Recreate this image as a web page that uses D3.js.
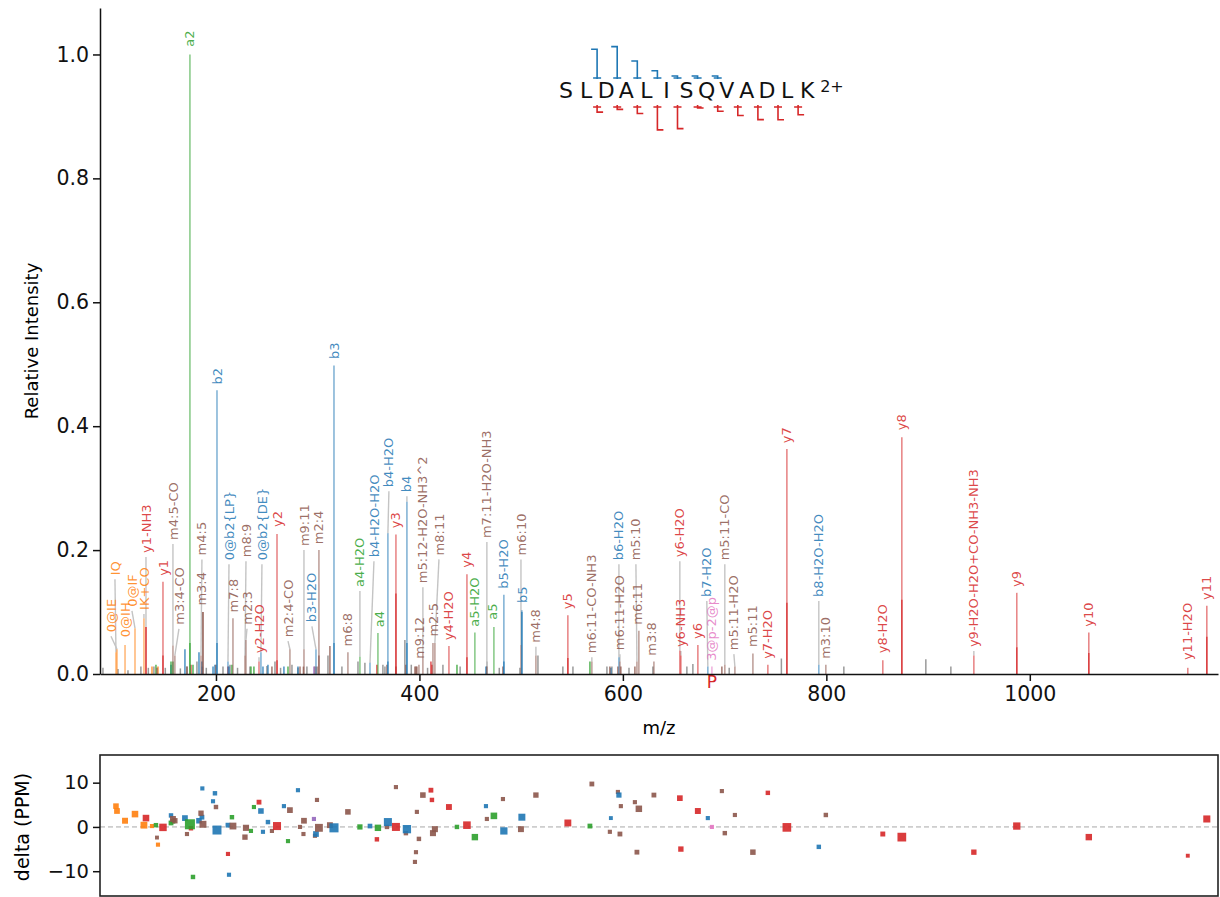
<!DOCTYPE html>
<html>
<head>
<meta charset="utf-8">
<script src="https://cdn.jsdelivr.net/npm/d3@7"></script>
<style>
  body { margin: 0; background: #fff; }
  svg { font-family: "DejaVu Sans", sans-serif; }
</style>
</head>
<body>
<svg id="chart" width="1220" height="897"></svg>
<script>
// peptide + precursor
const peptide = "SLDALISQVADLK".split("");
const charge = "2+";
const precursorMz = 687.5;

// annotated peaks: [label, ion type, m/z, intensity, delta ppm]
const annotated = [
  ["IQ", "i", 101.7, 0.035, 4.7],
  ["0@IE", "i", 102.7, 0.04, 3.6],
  ["0@IH", "i", 110.6, 0.047, 1.4],
  ["0@IF", "i", 120.4, 0.074, 2.9],
  ["IK+CO", "i", 129.2, 0.09, 0.4],
  ["y1-NH3", "y", 131.2, 0.076, 2.0],
  ["y1", "y", 147.9, 0.149, -0.1],
  ["y2-H2O", "y", 242.3, 0.02, 5.6],
  ["y2", "y", 260.0, 0.226, 0.2],
  ["y3", "y", 376.9, 0.225, 0.0],
  ["y4-H2O", "y", 429.0, 0.045, 4.5],
  ["y4", "y", 446.7, 0.161, 0.4],
  ["y5", "y", 545.9, 0.095, 0.9],
  ["y6-H2O", "y", 656.0, 0.038, 6.5],
  ["y6-NH3", "y", 657.0, 0.03, -5.0],
  ["y6", "y", 673.7, 0.047, 3.6],
  ["y7-H2O", "y", 742.5, 0.015, 7.7],
  ["y7", "y", 761.2, 0.363, -0.1],
  ["y8-H2O", "y", 855.5, 0.022, -1.6],
  ["y8", "y", 874.2, 0.382, -2.3],
  ["y9-H2O-H2O+CO-NH3-NH3", "y", 945.0, 0.03, -5.7],
  ["y9", "y", 987.2, 0.131, 0.2],
  ["y10", "y", 1058.0, 0.067, -2.3],
  ["y11-H2O", "y", 1155.3, 0.01, -6.5],
  ["y11", "y", 1174.0, 0.11, 1.8],
  ["b2", "b", 201.0, 0.458, -0.7],
  ["0@b2{LP}", "b", 211.8, 0.02, 0.4],
  ["0@b2{DE}", "b", 244.2, 0.035, 3.6],
  ["b3-H2O", "b", 298.3, 0.04, -1.6],
  ["b3", "b", 316.0, 0.498, -0.2],
  ["b4-H2O-H2O", "b", 351.4, 0.018, 0.2],
  ["b4-H2O", "b", 369.0, 0.227, 1.1],
  ["b4", "b", 387.7, 0.278, -0.5],
  ["b5-H2O", "b", 483.0, 0.128, -0.9],
  ["b5", "b", 500.7, 0.103, 2.2],
  ["b6-H2O", "b", 596.1, 0.027, 7.2],
  ["b7-H2O", "b", 683.5, 0.012, 2.0],
  ["b8-H2O-H2O", "b", 792.6, 0.015, -4.5],
  ["a2", "a", 174.4, 1.0, 0.6],
  ["a4-H2O", "a", 341.5, 0.028, 0.0],
  ["a4", "a", 359.2, 0.066, -0.2],
  ["a5-H2O", "a", 454.5, 0.067, -2.3],
  ["a5", "a", 473.2, 0.076, 2.5],
  ["m4:5-CO", "m", 157.7, 0.046, 1.8],
  ["m3:4-CO", "m", 159.6, 0.03, 1.4],
  ["m4:5", "m", 185.3, 0.03, 3.1],
  ["m3:4", "m", 187.2, 0.1, 0.6],
  ["m7:8", "m", 216.7, 0.09, 0.2],
  ["m8:9", "m", 228.5, 0.03, -2.3],
  ["m2:3", "m", 229.5, 0.055, -0.2],
  ["m2:4-CO", "m", 272.7, 0.04, 3.8],
  ["m9:11", "m", 286.5, 0.04, 1.4],
  ["m2:4", "m", 301.2, 0.2, -0.2],
  ["m6:8", "m", 329.7, 0.035, 3.4],
  ["m9:12", "m", 399.5, 0.015, -2.7],
  ["m5:12-H2O-NH3^2", "m", 403.4, 0.035, 7.2],
  ["m2:5", "m", 413.3, 0.05, -1.4],
  ["m8:11", "m", 415.2, 0.05, -0.5],
  ["m7:11-H2O-NH3", "m", 466.3, 0.012, 1.8],
  ["m6:10", "m", 499.8, 0.047, -0.5],
  ["m4:8", "m", 514.5, 0.03, 7.2],
  ["m6:11-CO-NH3", "m", 569.5, 0.02, 9.7],
  ["m6:11-H2O", "m", 597.1, 0.02, -1.6],
  ["m5:10", "m", 613.8, 0.02, -5.7],
  ["m6:11", "m", 615.7, 0.07, 4.1],
  ["m3:8", "m", 630.5, 0.02, 7.2],
  ["m5:11-CO", "m", 700.2, 0.015, -1.4],
  ["m5:11-H2O", "m", 710.1, 0.012, 2.7],
  ["m5:11", "m", 727.8, 0.033, -5.7],
  ["m3:10", "m", 799.5, 0.015, 2.7],
  ["3@p-2@p", "p", 687.5, 0.012, 0.0]
];

// where each label above sits: [m/z, intensity] (same order as annotated)
const labelSpots = [
  [100.7, 0.153], [96.8, 0.061], [110.6, 0.053], [117.4, 0.102], [129.2, 0.097],
  [131.2, 0.189], [147.9, 0.152], [242.3, 0.027], [260.0, 0.231], [376.9, 0.229],
  [429.0, 0.048], [446.7, 0.165], [545.9, 0.098], [656.0, 0.182], [657.0, 0.037],
  [673.7, 0.05], [742.5, 0.018], [761.2, 0.366], [855.5, 0.027], [874.2, 0.387],
  [945.0, 0.037], [987.2, 0.134], [1058.0, 0.07], [1155.3, 0.016], [1174.0, 0.113],
  [201.0, 0.461], [212.8, 0.177], [245.2, 0.177], [294.3, 0.077], [316.0, 0.502],
  [355.3, 0.182], [370.0, 0.295], [387.7, 0.287], [482.1, 0.131], [501.7, 0.108],
  [596.1, 0.177], [682.5, 0.118], [792.6, 0.118],
  [174.4, 1.006], [341.5, 0.134], [360.2, 0.069], [454.5, 0.07], [472.2, 0.081],
  [157.7, 0.21], [163.6, 0.073], [186.2, 0.185], [186.2, 0.104], [216.7, 0.093],
  [229.5, 0.182], [230.5, 0.073], [270.8, 0.053], [286.5, 0.2], [301.2, 0.203],
  [329.7, 0.038], [400.5, 0.018], [403.4, 0.14], [413.3, 0.054], [419.2, 0.185],
  [466.3, 0.213], [499.8, 0.185], [514.5, 0.044], [569.5, 0.027], [597.1, 0.032],
  [612.8, 0.177], [614.7, 0.073], [628.5, 0.023], [700.2, 0.177], [709.1, 0.032],
  [727.8, 0.037], [799.5, 0.018],
  [687.5, 0.015]
];

// annotated peaks without a printed label: [ion type, m/z, intensity, delta ppm]
const extraPeaks = [
  ["i", 137.1, 0.012, 0.2], ["i", 143.0, 0.012, -4.0],
  ["y", 175.4, 0.015, -0.3], ["y", 211.8, 0.012, -6.1], ["y", 358.2, 0.015, -2.8],
  ["y", 411.3, 0.02, 8.3], ["y", 412.3, 0.015, 6.1],
  ["b", 155.8, 0.015, 2.6], ["b", 169.5, 0.04, 2.0], ["b", 183.3, 0.035, 1.4],
  ["b", 186.2, 0.02, 2.2], ["b", 186.6, 0.012, 8.7], ["b", 197.1, 0.012, 5.8],
  ["b", 199.0, 0.015, 7.6], ["b", 212.8, 0.012, -10.8], ["b", 246.2, 0.012, -1.1],
  ["b", 251.1, 0.015, 1.1], ["b", 266.8, 0.012, 4.7], ["b", 280.6, 0.012, 8.3],
  ["b", 465.4, 0.012, 4.7], ["b", 588.2, 0.01, 2.0],
  ["a", 141.0, 0.015, 0.4], ["a", 155.8, 0.02, 0.9], ["a", 157.7, 0.02, 1.3],
  ["a", 177.4, 0.015, -11.3], ["a", 215.7, 0.015, 2.2], ["a", 234.4, 0.012, -0.9],
  ["a", 237.3, 0.012, 4.5], ["a", 270.8, 0.012, -3.2], ["a", 436.9, 0.015, 0.0],
  ["a", 567.6, 0.02, 0.2],
  ["m", 142.0, 0.01, -2.4], ["m", 171.5, 0.012, -1.6], ["m", 200.0, 0.015, 4.5],
  ["m", 255.0, 0.012, -0.9], ["m", 282.6, 0.012, 0.0], ["m", 286.0, 0.012, -1.6],
  ["m", 297.3, 0.012, -2.0], ["m", 299.3, 0.012, 6.1], ["m", 312.0, 0.045, 0.4],
  ["m", 368.1, 0.015, 0.0], ["m", 376.9, 0.012, 9.0], ["m", 386.7, 0.015, -1.4],
  ["m", 397.5, 0.012, 3.4], ["m", 396.6, 0.012, -5.7], ["m", 395.6, 0.012, -7.9],
  ["m", 482.1, 0.012, 6.3], ["m", 587.2, 0.012, -1.1], ["m", 595.1, 0.012, 7.9],
  ["m", 598.0, 0.012, 4.7], ["m", 611.8, 0.012, 5.6], ["m", 697.3, 0.012, 8.1],
  ["c", 296.3, 0.012, 1.8]
];

// second, lower trace drawn over the strong peaks: [ion type, m/z, intensity]
const overlayPeaks = [
  ["a", 174.4, 0.05], ["b", 201.0, 0.05], ["b", 316.0, 0.05], ["y", 376.9, 0.13],
  ["y", 446.7, 0.027], ["b", 369.0, 0.02], ["b", 387.7, 0.05], ["y", 260.0, 0.022],
  ["y", 761.2, 0.115], ["y", 874.2, 0.12], ["y", 987.2, 0.043], ["y", 1058.0, 0.034],
  ["y", 1174.0, 0.06], ["y", 545.9, 0.026], ["b", 500.7, 0.1], ["b", 483.0, 0.02],
  ["y", 147.9, 0.03], ["y", 131.2, 0.076], ["m", 187.2, 0.1], ["m", 301.2, 0.03]
];

// unannotated peaks: [m/z, intensity]
const grayPeaks = [
  [88.9, 0.01], [103.7, 0.008], [113.5, 0.006], [126.2, 0.012], [133.5, 0.01],
  [139.0, 0.012], [150.2, 0.01], [165.0, 0.009], [171.5, 0.012], [181.3, 0.02],
  [190.5, 0.01], [206.9, 0.012], [213.8, 0.015], [221.2, 0.01], [233.4, 0.012],
  [250.1, 0.013], [258.0, 0.02], [263.5, 0.01], [274.7, 0.015], [280.6, 0.01],
  [289.4, 0.012], [310.1, 0.03], [323.8, 0.012], [339.6, 0.02], [346.4, 0.018],
  [364.1, 0.015], [366.1, 0.012], [385.7, 0.055], [392.0, 0.015], [408.0, 0.01],
  [423.1, 0.015], [440.0, 0.012], [466.3, 0.02], [478.5, 0.01], [498.8, 0.01],
  [516.5, 0.03], [541.0, 0.012], [550.9, 0.012], [584.3, 0.012], [589.2, 0.012],
  [606.0, 0.01], [629.5, 0.012], [662.9, 0.012], [668.8, 0.016], [704.5, 0.01],
  [755.8, 0.025], [817.2, 0.012], [897.8, 0.024], [922.4, 0.012]
];

const yTicks = [0, 0.2, 0.4, 0.6, 0.8, 1.0];
const xTicks = [200, 400, 600, 800, 1000];
const ppmTicks = [-10, 0, 10];

const colors = { b: "#1f77b4", y: "#d62728", a: "#2ca02c", m: "#8c564b", i: "#ff7f0e", p: "#e377c2", c: "#9467bd" };

const svg = d3.select("#chart");

// scales
const x = d3.scaleLinear().domain([86, 1185]).range([100, 1218]);
const y = d3.scaleLinear().domain([0, 1.075]).range([674, 8]);
const yErr = d3.scaleLinear().domain([-15.6, 16.25]).range([896, 755]);
const markSize = d3.scaleLog().domain([0.008, 1]).range([3.6, 10]).clamp(true);
const coverH = d3.scaleLinear().domain([0, 0.5]).range([0, 32.5]);

//spectrum
const spec = svg.append("g");

spec.selectAll(".gray")
  .data(grayPeaks)
  .enter()
  .append("line")
  .attr("x1", d => x(d[0])).attr("x2", d => x(d[0]))
  .attr("y1", y(0)).attr("y2", d => y(d[1]))
  .attr("stroke", "#9a9a9a")
  .attr("stroke-width", 1.5);

// connectors from peak to label
spec.selectAll(".conn")
  .data(annotated.map((d, i) => [d, labelSpots[i]]))
  .enter()
  .filter(d => y(d[0][3]) - y(d[1][1]) > 4)
  .append("line")
  .attr("x1", d => x(d[0][2])).attr("y1", d => y(d[0][3]))
  .attr("x2", d => x(d[1][0])).attr("y2", d => y(d[1][1]))
  .attr("stroke", "#c4c4c4")
  .attr("stroke-width", 1.4);

spec.selectAll(".extra")
  .data(extraPeaks)
  .enter()
  .append("line")
  .attr("x1", d => x(d[1])).attr("x2", d => x(d[1]))
  .attr("y1", y(0)).attr("y2", d => y(d[2]))
  .attr("stroke", d => colors[d[0]])
  .attr("stroke-opacity", 0.75)
  .attr("stroke-width", 1.6);

spec.selectAll(".peak")
  .data(annotated)
  .enter()
  .append("line")
  .attr("x1", d => x(d[2])).attr("x2", d => x(d[2]))
  .attr("y1", y(0)).attr("y2", d => y(d[3]))
  .attr("stroke", d => colors[d[1]])
  .attr("stroke-opacity", 0.55)
  .attr("stroke-width", 1.6);

spec.selectAll(".overlay")
  .data(overlayPeaks)
  .enter()
  .append("line")
  .attr("x1", d => x(d[1])).attr("x2", d => x(d[1]))
  .attr("y1", y(0)).attr("y2", d => y(d[2]))
  .attr("stroke", d => colors[d[0]])
  .attr("stroke-opacity", 0.7)
  .attr("stroke-width", 1.6);

spec.selectAll(".lbl")
  .data(annotated.map((d, i) => [d, labelSpots[i]]))
  .enter()
  .append("text")
  .attr("transform", d => `translate(${x(d[1][0])},${y(d[1][1]) - 4}) rotate(-90)`)
  .attr("dy", "0.35em")
  .attr("font-size", 13)
  .attr("fill", d => colors[d[0][1]])
  .attr("fill-opacity", 0.85)
  .text(d => d[0][0]);

// precursor marker
svg.append("text")
  .attr("x", x(precursorMz))
  .attr("y", 688)
  .attr("text-anchor", "middle")
  .attr("font-size", 17)
  .attr("fill", colors.y)
  .text("P");

//axes
const yAxis = d3.axisLeft(y).tickValues(yTicks).tickFormat(d3.format(".1f"))
  .tickSizeInner(7).tickSizeOuter(0).tickPadding(4);
const xAxis = d3.axisBottom(x).tickValues(xTicks).tickFormat(d3.format("d"))
  .tickSizeInner(7).tickSizeOuter(0).tickPadding(5);

const gy = svg.append("g").attr("transform", "translate(100,0)").call(yAxis);
const gx = svg.append("g").attr("transform", "translate(0,674)").call(xAxis);
[gx, gy].forEach(g => {
  g.selectAll("text").attr("font-size", 20.5).attr("font-family", "DejaVu Sans").attr("fill", "#111");
  g.selectAll("path, line").attr("stroke", "#111").attr("stroke-width", 1.5);
});

svg.append("text")
  .attr("transform", "translate(32,341) rotate(-90)")
  .attr("text-anchor", "middle")
  .attr("dy", "0.35em")
  .attr("font-size", 18)
  .text("Relative Intensity");
svg.append("text")
  .attr("x", 659).attr("y", 734)
  .attr("text-anchor", "middle")
  .attr("font-size", 18)
  .text("m/z");

// peptide sequence with fragment coverage
const seqX0 = 566, seqStep = 20.1, seqBase = 98;
const pep = svg.append("g");
pep.selectAll(".aa")
  .data(peptide)
  .enter()
  .append("text")
  .attr("x", (d, i) => seqX0 + i * seqStep)
  .attr("y", seqBase)
  .attr("text-anchor", "middle")
  .attr("font-size", 22)
  .attr("fill", "#111")
  .text(d => d);
pep.append("text")
  .attr("x", seqX0 + (peptide.length - 1) * seqStep + 13)
  .attr("y", 92)
  .attr("font-size", 16)
  .attr("fill", "#111")
  .text(charge);

function coverage(ion) {
  const m = new Map();
  const re = new RegExp("^" + ion + "(\\d+)(-|$)");
  annotated.forEach(d => {
    const mt = d[0].match(re);
    if (mt) m.set(+mt[1], Math.max(m.get(+mt[1]) || 0, d[3]));
  });
  return Array.from(m, ([n, v]) => ({ n, v }));
}

const bTop = 79, yTop = 105;
pep.selectAll(".bmark")
  .data(coverage("b"))
  .enter()
  .append("path")
  .attr("d", d => {
    const bx = seqX0 + (d.n - 1) * seqStep + 11;
    const h = Math.max(3, coverH(d.v));
    return `M${bx - 6},${bTop - h}H${bx}V${bTop}M${bx - 4},${bTop - 1}H${bx + 4}`;
  })
  .attr("fill", "none")
  .attr("stroke", colors.b)
  .attr("stroke-width", 1.6);
pep.selectAll(".ymark")
  .data(coverage("y"))
  .enter()
  .append("path")
  .attr("d", d => {
    const bx = seqX0 + (peptide.length - d.n - 1) * seqStep + 11;
    const h = Math.max(3, coverH(d.v));
    return `M${bx},${yTop}V${yTop + h}H${bx + 6}M${bx - 4},${yTop + 2}H${bx + 4}`;
  })
  .attr("fill", "none")
  .attr("stroke", colors.y)
  .attr("stroke-width", 1.6);

// mass error panel
const err = svg.append("g");
err.append("line")
  .attr("x1", 100).attr("x2", 1218)
  .attr("y1", yErr(0)).attr("y2", yErr(0))
  .attr("stroke", "#a8a8a8")
  .attr("stroke-dasharray", "5,3");

const errPts = annotated.map(d => ({ t: d[1], mz: d[2], v: d[3], ppm: d[4] }))
  .concat(extraPeaks.map(d => ({ t: d[0], mz: d[1], v: d[2], ppm: d[3] })));
err.selectAll("rect")
  .data(errPts.sort((p, q) => p.v - q.v))
  .enter()
  .append("rect")
  .attr("x", d => x(d.mz) - markSize(d.v) / 2)
  .attr("y", d => yErr(d.ppm) - markSize(d.v) / 2)
  .attr("width", d => markSize(d.v))
  .attr("height", d => markSize(d.v))
  .attr("fill", d => colors[d.t])
  .attr("fill-opacity", 0.9);

err.append("rect")
  .attr("x", 100).attr("y", 755)
  .attr("width", 1118).attr("height", 141)
  .attr("fill", "none")
  .attr("stroke", "#222")
  .attr("stroke-width", 1.6);

const gErr = err.append("g").attr("transform", "translate(100,0)")
  .call(d3.axisLeft(yErr).tickValues(ppmTicks).tickSizeInner(7).tickSizeOuter(0).tickPadding(4));
gErr.select(".domain").remove();
gErr.selectAll("text").attr("font-size", 19.5).attr("font-family", "DejaVu Sans").attr("fill", "#111");
gErr.selectAll("line").attr("stroke", "#111").attr("stroke-width", 1.5);

svg.append("text")
  .attr("transform", "translate(22,827) rotate(-90)")
  .attr("text-anchor", "middle")
  .attr("dy", "0.35em")
  .attr("font-size", 19)
  .text("delta (PPM)");
</script>
</body>
</html>
